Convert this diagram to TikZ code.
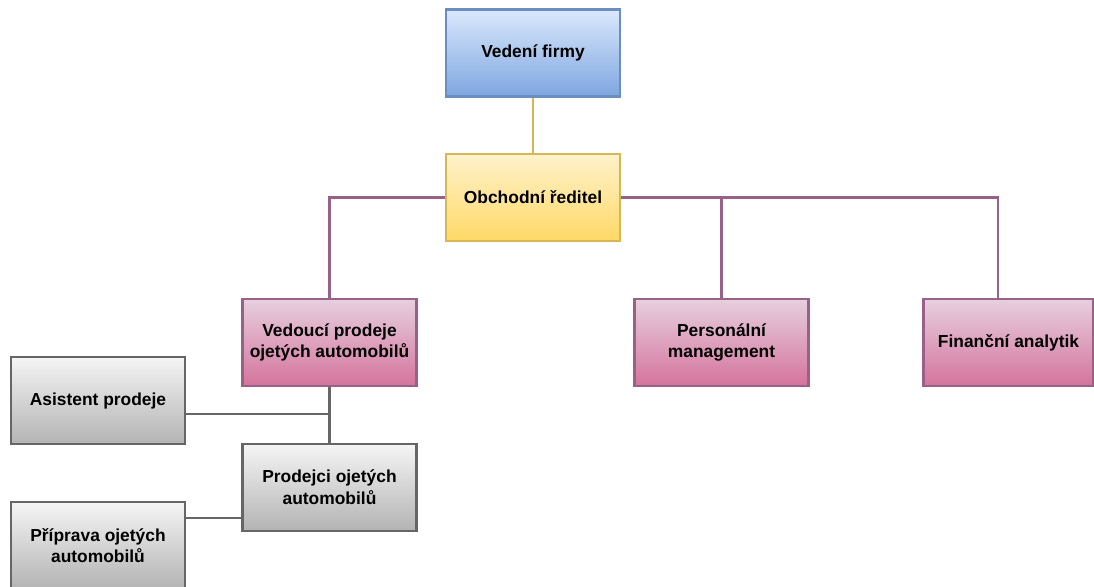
\documentclass[tikz,border=0pt]{standalone}
\usepackage{fontspec}
\setmainfont{Liberation Sans}
\usepackage{xcolor}
\usetikzlibrary{positioning, calc}

\definecolor{blueTop}{HTML}{DAE8FC}
\definecolor{blueBot}{HTML}{7EA6E0}
\definecolor{blueLine}{HTML}{6C8EBF}
\definecolor{yelTop}{HTML}{FFF2CC}
\definecolor{yelBot}{HTML}{FFD966}
\definecolor{yelLine}{HTML}{D6B656}
\definecolor{pinkTop}{HTML}{E6D0DE}
\definecolor{pinkBot}{HTML}{D5739D}
\definecolor{pinkLine}{HTML}{996185}
\definecolor{grayTop}{HTML}{F5F5F5}
\definecolor{grayBot}{HTML}{B3B3B3}
\definecolor{grayLine}{HTML}{666666}

\begin{document}
\begin{tikzpicture}[
    x=0.02cm, y=-0.02cm,
    every node/.style={draw, rectangle, line width=1.4pt, align=center,
                       minimum width=3.48cm, minimum height=1.74cm,
                       inner sep=2pt,
                       font=\fontsize{9.9}{12.4}\selectfont\bfseries},
    bluebox/.style={draw=blueLine, top color=blueTop, bottom color=blueBot},
    yellowbox/.style={draw=yelLine, top color=yelTop, bottom color=yelBot},
    pinkbox/.style={draw=pinkLine, top color=pinkTop, bottom color=pinkBot},
    graybox/.style={draw=grayLine, top color=grayTop, bottom color=grayBot},
    link/.style={line width=1.4pt}
  ]
  \useasboundingbox (0,0) rectangle (1094,586);

  % boxes
  \node[bluebox]   (vedeni)   at (533,53)    {Vedení firmy};
  \node[yellowbox] (reditel)  at (533,197.5) {Obchodní ředitel};
  \node[pinkbox]   (vedouci)  at (329.5,342.5) {Vedoucí prodeje\\ojetých automobilů};
  \node[pinkbox]   (personal) at (721.5,342.5) {Personální\\management};
  \node[pinkbox, minimum width=3.4cm] (financni) at (1008.5,342.5) {Finanční analytik};
  \node[graybox]   (asistent) at (98,400.5)  {Asistent prodeje};
  \node[graybox]   (prodejci) at (329.5,487.5) {Prodejci ojetých\\automobilů};
  \node[graybox]   (priprava) at (98,545.5)  {Příprava ojetých\\automobilů};

  % connectors
  \draw[link, yelLine] (vedeni) -- (reditel);
  \draw[link, pinkLine] (reditel.west) -| (vedouci.north);
  \coordinate (roh) at (998,197.5);
  \draw[link, pinkLine] (reditel.east) -- (roh) -- (roh |- financni.north);
  \draw[link, pinkLine] (personal.north) |- (reditel.east);
  \draw[link, grayLine] (vedouci) -- (prodejci);
  \coordinate (odbocka) at (vedouci.south |- 0,414);
  \draw[link, grayLine] (asistent.east |- odbocka) -- (odbocka);
  \draw[link, grayLine] (priprava.east |- 0,518) -- (prodejci.west |- 0,518);
\end{tikzpicture}
\end{document}
